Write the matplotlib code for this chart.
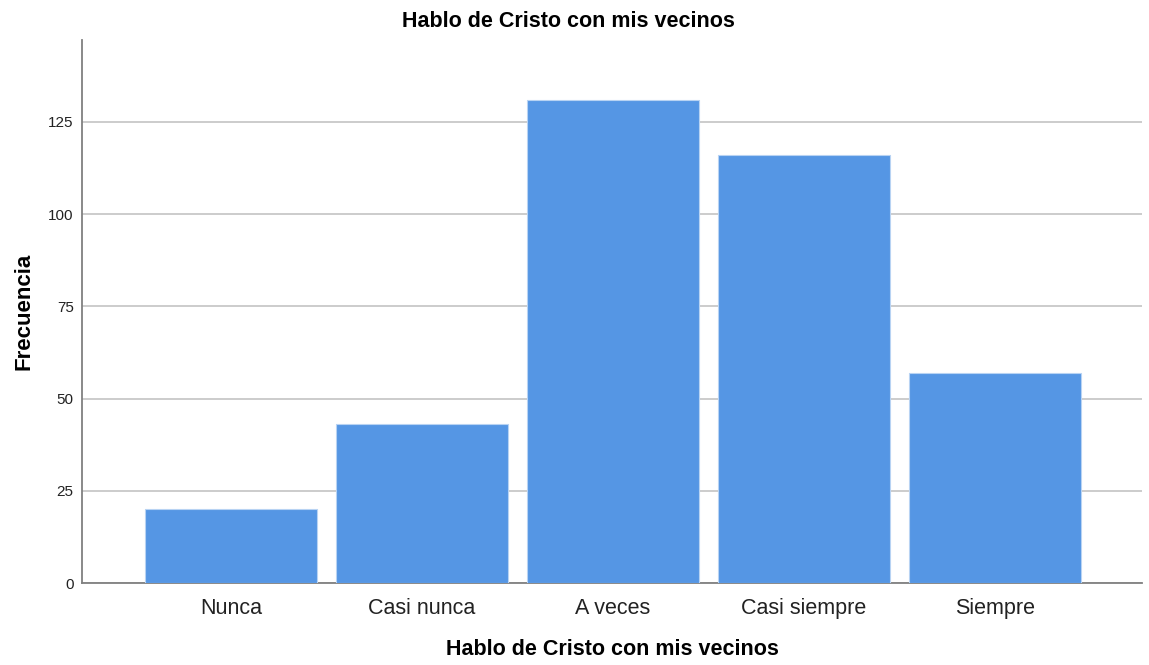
import matplotlib
matplotlib.use("Agg")
import matplotlib.pyplot as plt
import numpy as np

categories = ["Nunca", "Casi nunca", "A veces", "Casi siempre", "Siempre"]
counts = [20, 43, 131, 116, 57]
y_ticks = [0, 25, 50, 75, 100, 125]

plt.rcParams["font.family"] = ["Liberation Sans", "DejaVu Sans"]

fig = plt.figure(figsize=(11.49, 6.65), dpi=100)
ax = fig.add_axes([0.0714, 0.1233, 0.9225, 0.8165])

x = np.arange(len(categories))
ax.bar(x, counts, width=0.9, color="#5596e4", edgecolor="#b8d3f3", linewidth=0.8, zorder=3)

ax.set_xlim(-0.78, 4.77)
ax.set_ylim(0, 147.2)
ax.set_yticks(y_ticks)
ax.set_xticks(x, categories)
ax.yaxis.grid(True, color="#c8c8c8", linewidth=1.3, zorder=0)
ax.tick_params(axis="x", length=0, labelsize=15.5, pad=11, colors="#222222")
ax.tick_params(axis="y", length=0, labelsize=11, pad=6, colors="#222222")

for side in ("top", "right"):
    ax.spines[side].set_visible(False)
for side in ("left", "bottom"):
    ax.spines[side].set_color("#808080")
    ax.spines[side].set_linewidth(1.3)

# title sits centred on the figure, not the axes
fig.text(0.495, 0.967, "Hablo de Cristo con mis vecinos", fontsize=15.5,
         fontweight="bold", ha="center", va="center")
ax.set_xlabel("Hablo de Cristo con mis vecinos", fontsize=15.5, fontweight="bold", labelpad=14)
ax.set_ylabel("Frecuencia", fontsize=16, fontweight="bold", labelpad=10)

fig.savefig("out.png", dpi=100)
